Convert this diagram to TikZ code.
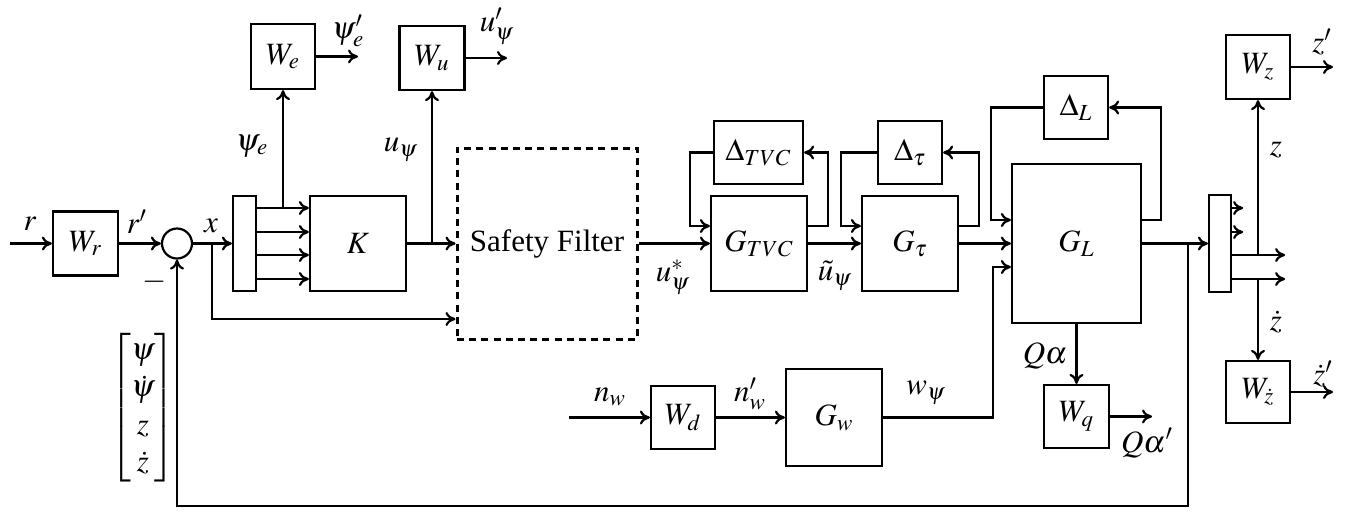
\documentclass[tikz,border=0pt]{standalone}
\usepackage{amsmath}
\usepackage{mathptmx}
\usepackage[no-math]{fontspec}
\setmainfont{Liberation Serif}
\usetikzlibrary{arrows.meta,calc}
\begin{document}
\begin{tikzpicture}[x=0.5pt,y=-0.5pt,line width=1.1pt,
  every node/.style={font=\fontsize{15.5}{18.6}\selectfont},
  >={Computer Modern Rightarrow[length=5pt,width=7pt]},
  blk/.style={draw,inner sep=0pt},
  lbl/.style={inner sep=0pt},
  sfbox/.style={draw,inner sep=0pt,line width=1.5pt,dash pattern=on 3.5pt off 2.6pt}]
\useasboundingbox (0,0) rectangle (1349,511);
% blocks
\node[blk,minimum width=32.5pt,minimum height=32pt] (Wr) at (85.5,243.5) {$W_r$};
\node[draw,circle,minimum size=15pt,inner sep=0pt] (sum) at (177,243.5) {};
\node[blk,minimum width=11.5pt,minimum height=47.5pt] (mux1) at (244.5,243.5) {};
\node[blk,minimum width=48pt,minimum height=47.5pt] (K) at (358,243.5) {$K$};
\node[blk,minimum width=32pt,minimum height=32.5pt] (We) at (283,56.5) {$W_e$};
\node[blk,minimum width=32.5pt,minimum height=32pt] (Wu) at (432,58) {$W_u$};
\node[sfbox,minimum width=90pt,minimum height=95.5pt] (SF) at (547,243.5) {Safety Filter};
\node[blk,minimum width=48pt,minimum height=47.5pt] (GT) at (759,243.5) {$G_{TVC}$};
\node[blk,minimum width=44.5pt,minimum height=31.5pt] (DT) at (758.5,152.5) {$\Delta_{TVC}$};
\node[blk,minimum width=48pt,minimum height=47.5pt] (Gt) at (910,243.5) {$G_\tau$};
\node[blk,minimum width=32pt,minimum height=31.5pt] (Dt) at (910,152.5) {$\Delta_\tau$};
\node[blk,minimum width=64.5pt,minimum height=79.5pt] (GL) at (1076.5,243.5) {$G_L$};
\node[blk,minimum width=32pt,minimum height=31.5pt] (DL) at (1076,107.5) {$\Delta_L$};
\node[blk,minimum width=11pt,minimum height=48.5pt] (mux2) at (1220,243.5) {};
\node[blk,minimum width=32pt,minimum height=32pt] (Wz) at (1258,67) {$W_z$};
\node[blk,minimum width=32pt,minimum height=31pt] (Wzd) at (1258,392) {$W_{\dot z}$};
\node[blk,minimum width=32pt,minimum height=31.5pt] (Wd) at (683,417.5) {$W_d$};
\node[blk,minimum width=48pt,minimum height=48.5pt] (Gw) at (834,417.5) {$G_w$};
\node[blk,minimum width=32.5pt,minimum height=31.5pt] (Wq) at (1076.5,416.5) {$W_q$};
% coordinates
\coordinate (rin) at (10,243.5);
\coordinate (bx) at (212,243.5);
\coordinate (y319) at (0,319);
\coordinate (peo) at (358,56.5);
\coordinate (uo) at (507,58);
\coordinate (fb) at (1188,243.5);
\coordinate (fbb) at (1188,506);
\coordinate (nw) at (569,417.5);
\coordinate (wc) at (993,417.5);
\coordinate (qo) at (1152,416.5);
\coordinate (zo) at (1333,67);
\coordinate (zdo) at (1333,392);
\coordinate (k1) at ([yshift=17.75pt]mux1.east);
\coordinate (m3) at ([yshift=-5.75pt]mux2.east);
\coordinate (m4) at ([yshift=-17.75pt]mux2.east);
% connectors
\draw[->] (rin) -- (Wr.west);
\draw[->] (Wr.east) -- (sum.west);
\draw[->] (sum.east) -- (mux1.west);
\draw[->] (bx) |- (SF.west |- y319);
\foreach \d in {17.75,5.75,-5.75,-17.75}
  \draw[->] ([yshift=\d pt]mux1.east) -- ([yshift=\d pt]K.west);
\draw[->] (We.south |- k1) -- (We.south);
\draw[->] (We.east) -- (peo);
\draw[->] (K.east) -- (SF.west);
\draw[->] (Wu.south |- K.east) -- (Wu.south);
\draw[->] (Wu.east) -- (uo);
\draw[->] (SF.east) -- (GT.west);
\draw[->] (DT.west) -- ++(-23,0) |- ([yshift=8.75pt]GT.west);
\draw[->] ([yshift=8.75pt]GT.east) -- ++(20,0) |- (DT.east);
\draw[->] (GT.east) -- (Gt.west);
\draw[->] (Dt.west) -- ++(-36,0) |- ([yshift=8.75pt]Gt.west);
\draw[->] ([yshift=8.75pt]Gt.east) -- ++(20,0) |- (Dt.east);
\draw[->] (Gt.east) -- (GL.west);
\draw[->] (DL.west) -- ++(-52,0) |- ([yshift=11.75pt]GL.west);
\draw[->] ([yshift=11.75pt]GL.east) -- ++(19,0) |- (DL.east);
\draw[->] (GL.east) -- (mux2.west);
\draw[->] (fb) -- (fbb) -| (sum.south);
\draw[->] (nw) -- (Wd.west);
\draw[->] (Wd.east) -- (Gw.west);
\draw[->] (Gw.east) -- (wc) |- ([yshift=-11.75pt]GL.west);
\draw[->] (GL.south) -- (Wq.north);
\draw[->] (Wq.east) -- (qo);
\draw[->] ([yshift=17.75pt]mux2.east) -- ++(11,0);
\draw[->] ([yshift=5.75pt]mux2.east) -- ++(11,0);
\draw[->] (m3) -- ++(53,0);
\draw[->] (m4) -- ++(53,0);
\draw[->] (Wz.south |- m3) -- (Wz.south);
\draw[->] (Wzd.north |- m4) -- (Wzd.north);
\draw[->] (Wz.east) -- (zo);
\draw[->] (Wzd.east) -- (zdo);
% labels
\node[lbl] (lr) at (30,224) {$r$};
\node[lbl] (lrp) at (137,222) {$r'$};
\node[lbl] (lx) at (211,226) {$x$};
\node[lbl] (lminus) at (155,282) {$-$};
\node[lbl] (lpe) at (252,146) {$\psi_e$};
\node[lbl] (lpep) at (348,31) {$\psi'_e$};
\node[lbl] (lu) at (401,150) {$u_\psi$};
\node[lbl] (lup) at (497,26) {$u'_\psi$};
\node[lbl] (lus) at (673,277) {$u^*_\psi$};
\node[lbl] (lut) at (835,276) {$\tilde u_\psi$};
\node[lbl] (lw) at (926,393) {$w_\psi$};
\node[lbl] (lnw) at (610,397) {$n_w$};
\node[lbl] (lnwp) at (750,394) {$n'_w$};
\node[lbl] (lqa) at (1045,356) {$Q\alpha$};
\node[lbl] (lqap) at (1147,443) {$Q\alpha'$};
\node[lbl] (lz) at (1276,150) {$z$};
\node[lbl] (lzd) at (1276,322) {$\dot z$};
\node[lbl] (lzp) at (1322,42) {$z'$};
\node[lbl] (lzdp) at (1323,374) {$\dot z'$};
\node[lbl] (vec) at (143,408) {$\begin{bmatrix}\psi\\ \dot\psi\\ z\\ \dot z\end{bmatrix}$};
\end{tikzpicture}
\end{document}
